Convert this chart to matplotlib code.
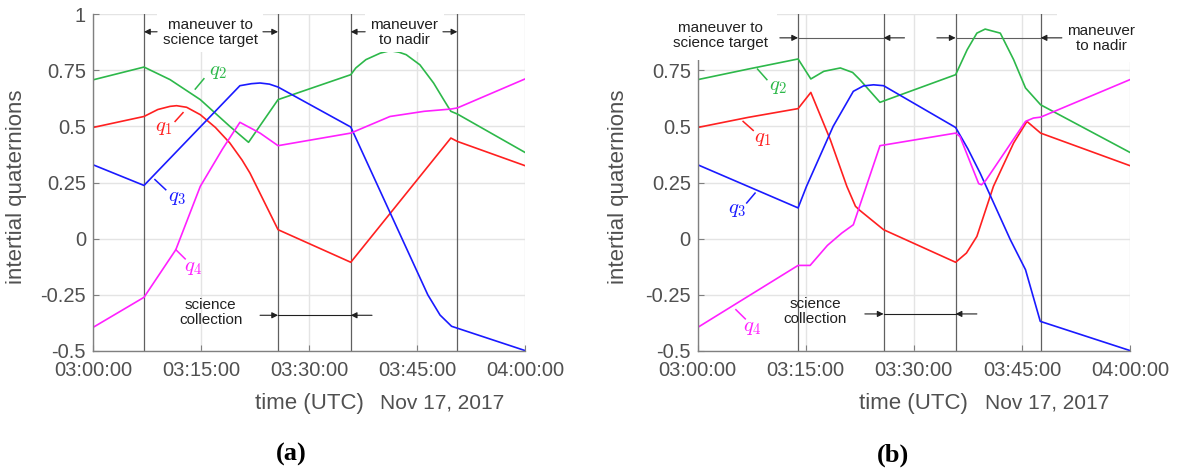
import matplotlib.pyplot as plt

plt.rcParams["font.family"] = ["Liberation Sans", "DejaVu Sans"]
plt.rcParams["mathtext.fontset"] = "cm"

# time axis: minutes after 03:00:00 UTC, Nov 17 2017
t_ticks = [0, 15, 30, 45, 60]
t_tick_labels = ["03:00:00", "03:15:00", "03:30:00", "03:45:00", "04:00:00"]
y_ticks = [-0.5, -0.25, 0, 0.25, 0.5, 0.75, 1]
y_tick_labels = ["-0.5", "-0.25", "0", "0.25", "0.5", "0.75", "1"]

# ---- panel (a)
a_q1_t = [0, 7.08, 9, 10.7, 11.6, 13, 14.9, 17, 19.0, 20.7, 21.8, 25.7, 35.8, 49.7, 50.6, 60]
a_q1_v = [0.495, 0.544, 0.575, 0.589, 0.592, 0.585, 0.552, 0.495, 0.426, 0.35, 0.292, 0.040, -0.105, 0.448, 0.433, 0.325]
a_q2_t = [0, 7.08, 10.7, 14.9, 19.0, 21.6, 25.7, 35.8, 36.5, 37.9, 39.9, 41.25, 42.5, 43.5, 45.4, 47.3, 48.7, 49.7, 50.6, 60]
a_q2_v = [0.707, 0.764, 0.708, 0.619, 0.5, 0.429, 0.619, 0.730, 0.76, 0.797, 0.826, 0.837, 0.830, 0.819, 0.774, 0.693, 0.619, 0.567, 0.555, 0.384]
a_q3_t = [0, 7.08, 20.4, 22, 23.2, 24.5, 25.7, 35.8, 41.7, 46.5, 48.2, 49.8, 60]
a_q3_v = [0.329, 0.237, 0.681, 0.69, 0.693, 0.688, 0.675, 0.497, 0.085, -0.25, -0.34, -0.390, -0.498]
a_q4_t = [0, 7.08, 11.5, 14.9, 18, 20.4, 23.2, 25.7, 35.8, 41.25, 46, 49.7, 50.6, 60]
a_q4_v = [-0.395, -0.261, -0.049, 0.233, 0.40, 0.518, 0.470, 0.414, 0.470, 0.544, 0.567, 0.577, 0.582, 0.711]
a_events = [7.08, 25.7, 35.8, 50.6]

# ---- panel (b)
b_q1_t = [0, 7, 13.93, 15.7, 18.4, 20.7, 21.9, 22.5, 25.8, 35.8, 37.3, 38.75, 41.05, 43.85, 45.7, 47.6, 60]
b_q1_v = [0.495, 0.54, 0.579, 0.651, 0.441, 0.233, 0.144, 0.126, 0.040, -0.105, -0.064, 0.010, 0.233, 0.426, 0.522, 0.470, 0.325]
b_q2_t = [0, 7, 13.93, 15.7, 17.5, 19.8, 21.5, 22.5, 25.3, 35.8, 37.4, 38.75, 39.9, 42.0, 43.85, 45.5, 47.6, 60]
b_q2_v = [0.708, 0.755, 0.800, 0.711, 0.745, 0.760, 0.74, 0.708, 0.607, 0.730, 0.841, 0.915, 0.933, 0.915, 0.797, 0.671, 0.596, 0.384]
b_q3_t = [0, 13.93, 15.1, 18.8, 21.6, 23, 24.4, 25.8, 35.8, 37.5, 39.2, 43.4, 45.5, 47.55, 60]
b_q3_v = [0.329, 0.137, 0.233, 0.5, 0.656, 0.68, 0.685, 0.681, 0.495, 0.40, 0.292, -0.005, -0.138, -0.368, -0.498]
b_q4_t = [0, 13.93, 15.6, 18, 20.0, 21.6, 25.3, 35.8, 36.4, 39.0, 39.4, 40.0, 45.5, 46.6, 47.6, 60]
b_q4_v = [-0.395, -0.119, -0.119, -0.03, 0.025, 0.062, 0.414, 0.470, 0.455, 0.245, 0.240, 0.26, 0.522, 0.537, 0.541, 0.708]
b_events = [13.93, 25.8, 35.8, 47.6]

colors = {"q1": "#ff2020", "q2": "#2db84a", "q3": "#1a1aff", "q4": "#ff20ff"}
grey = "#505050"
ink = "#202020"


def setup(ax):
    ax.set_xlim(0, 60)
    ax.set_ylim(-0.5, 1)
    ax.set_xticks(t_ticks)
    ax.set_xticklabels(t_tick_labels)
    ax.set_yticks(y_ticks)
    ax.set_yticklabels(y_tick_labels)
    ax.grid(True, color="#e4e4e4", lw=1.0)
    ax.set_axisbelow(True)
    for s in ["top", "right"]:
        ax.spines[s].set_visible(False)
    for s in ["left", "bottom"]:
        ax.spines[s].set_color("#808080")
        ax.spines[s].set_linewidth(1.0)
    ax.tick_params(direction="in", length=4, color="#808080", labelsize=14.5,
                   labelcolor=grey, pad=5)
    ax.tick_params(axis="x", pad=7)
    ax.text(0.5, -0.155, "time (UTC)", transform=ax.transAxes, ha="center",
            va="center", fontsize=16, color=grey)
    ax.text(0.664, -0.155, "Nov 17, 2017", transform=ax.transAxes, ha="left",
            va="center", fontsize=15, color=grey)
    ax.set_ylabel("intertial quaternions", fontsize=16, color=grey)


def arrow(ax, x_from, x_to, y):
    ax.annotate("", xy=(x_to, y), xytext=(x_from, y), annotation_clip=False,
                arrowprops=dict(arrowstyle="-|>", color=ink, lw=0.8,
                                mutation_scale=9, shrinkA=0, shrinkB=0),
                zorder=11)


def label(ax, txt, color, tx, ty, l0, l1):
    ax.plot([l0[0], l1[0]], [l0[1], l1[1]], color=color, lw=1.1)
    ax.text(tx, ty, txt, color=color, fontsize=15, ha="center", va="center")


box = dict(facecolor="white", edgecolor="none", pad=4)

fig = plt.figure(figsize=(11.79, 4.68), dpi=100)

# ---------------- (a)
ax1 = fig.add_axes([0.0789, 0.25, 0.3664, 0.72])
setup(ax1)
for t in a_events:
    ax1.axvline(t, color="#606060", lw=0.9, zorder=1.5)
ax1.plot(a_q1_t, a_q1_v, color=colors["q1"], lw=1.2)
ax1.plot(a_q2_t, a_q2_v, color=colors["q2"], lw=1.2)
ax1.plot(a_q3_t, a_q3_v, color=colors["q3"], lw=1.2)
ax1.plot(a_q4_t, a_q4_v, color=colors["q4"], lw=1.2)
ax1.yaxis.set_label_coords(-0.152, 0.487)

label(ax1, r"$q_2$", colors["q2"], 17.3, 0.745, (14.2, 0.666), (15.4, 0.712))
label(ax1, r"$q_1$", colors["q1"], 9.8, 0.494, (11.4, 0.522), (12.5, 0.561))
label(ax1, r"$q_3$", colors["q3"], 11.7, 0.182, (8.6, 0.263), (10.1, 0.218))
label(ax1, r"$q_4$", colors["q4"], 13.95, -0.129, (11.5, -0.049), (12.8, -0.090))

ax1.text(16.25, 0.919, "maneuver to\nscience target", ha="center", va="center",
         fontsize=11, color=ink, bbox=box, zorder=10, clip_on=False, linespacing=1.1)
arrow(ax1, 8.9, 7.08, 0.921)
arrow(ax1, 23.6, 25.7, 0.921)
ax1.text(43.2, 0.919, "maneuver\nto nadir", ha="center", va="center",
         fontsize=11, color=ink, bbox=box, zorder=10, clip_on=False, linespacing=1.1)
arrow(ax1, 37.8, 35.8, 0.921)
arrow(ax1, 48.6, 50.6, 0.921)

ax1.text(16.35, -0.329, "science\ncollection", ha="center", va="center",
         fontsize=11, color=ink, zorder=10, linespacing=1.1)
ax1.plot([25.7, 35.8], [-0.341, -0.341], color=ink, lw=0.8)
arrow(ax1, 23.2, 25.7, -0.341)
arrow(ax1, 38.75, 35.8, -0.341)

# ---------------- (b)
ax2 = fig.add_axes([0.5918, 0.25, 0.3666, 0.72])
setup(ax2)
# the top label is hidden behind the annotation box in the original
ax2.get_yticklabels()[-1].set_visible(False)
for t in b_events:
    ax2.axvline(t, color="#606060", lw=0.9, zorder=1.5)
ax2.plot(b_q1_t, b_q1_v, color=colors["q1"], lw=1.2)
ax2.plot(b_q2_t, b_q2_v, color=colors["q2"], lw=1.2)
ax2.plot(b_q3_t, b_q3_v, color=colors["q3"], lw=1.2)
ax2.plot(b_q4_t, b_q4_v, color=colors["q4"], lw=1.2)
ax2.yaxis.set_label_coords(-0.160, 0.487)

label(ax2, r"$q_2$", colors["q2"], 11.1, 0.678, (8.3, 0.755), (9.6, 0.708))
label(ax2, r"$q_1$", colors["q1"], 9.0, 0.448, (6.3, 0.522), (7.7, 0.482))
label(ax2, r"$q_3$", colors["q3"], 5.5, 0.129, (7.96, 0.203), (6.8, 0.159))
label(ax2, r"$q_4$", colors["q4"], 7.6, -0.397, (5.3, -0.316), (6.6, -0.357))

ax2.plot([13.93, 25.8], [0.894, 0.894], color="#606060", lw=0.8, zorder=1.6)
ax2.plot([35.8, 47.6], [0.894, 0.894], color="#606060", lw=0.8, zorder=1.6)
ax2.text(3.1, 0.905, "maneuver to\nscience target", ha="center", va="center",
         fontsize=11, color=ink, bbox=dict(facecolor="white", edgecolor="none", pad=7),
         zorder=10, clip_on=False, linespacing=1.1)
arrow(ax2, 11.4, 13.93, 0.894)
arrow(ax2, 28.7, 25.8, 0.894)
arrow(ax2, 33.2, 35.8, 0.894)
arrow(ax2, 50.55, 47.6, 0.894)
ax2.text(56.0, 0.893, "maneuver\nto nadir", ha="center", va="center",
         fontsize=11, color=ink, bbox=dict(facecolor="white", edgecolor="none", pad=7),
         zorder=10, clip_on=False, linespacing=1.1)

ax2.text(16.3, -0.326, "science\ncollection", ha="center", va="center",
         fontsize=11, color=ink, zorder=10, linespacing=1.1)
ax2.plot([25.8, 35.8], [-0.335, -0.335], color=ink, lw=0.8)
arrow(ax2, 23.2, 25.8, -0.335)
arrow(ax2, 38.75, 35.8, -0.335)

fig.text(0.2474, 0.028, "(a)", fontsize=19, fontweight="bold", ha="center",
         va="center", family="Liberation Serif")
fig.text(0.757, 0.028, "(b)", fontsize=19, fontweight="bold", ha="center",
         va="center", family="Liberation Serif")

fig.savefig("out.png", dpi=100)
